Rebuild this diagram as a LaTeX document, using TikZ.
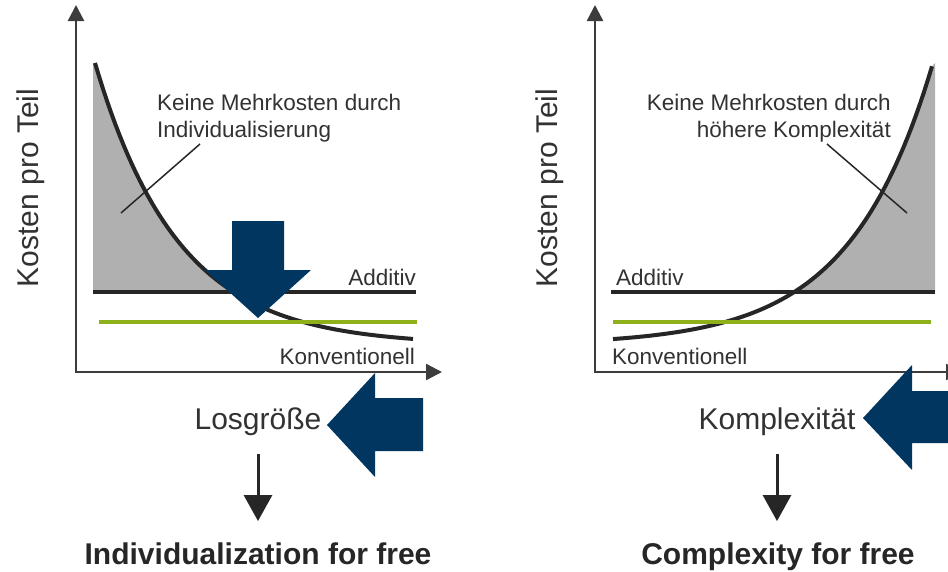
\documentclass[tikz,border=0pt]{standalone}
\usepackage{fontspec}
\setmainfont{Liberation Sans}
\usetikzlibrary{arrows.meta}
\definecolor{navy}{RGB}{0,54,96}
\definecolor{lgreen}{RGB}{142,176,26}
\definecolor{shadegray}{RGB}{176,176,176}
\definecolor{ink}{RGB}{38,38,38}
\definecolor{txt}{RGB}{50,50,50}
\begin{document}
\begin{tikzpicture}[x=1pt,y=-1pt,
  axisline/.style={draw=ink!90, line width=2.4pt, {Triangle[width=16pt,length=16pt]}-{Triangle[width=16pt,length=16pt]}},
  costcurve/.style={draw=ink, line width=4pt},
  addline/.style={draw=ink, line width=4pt},
  greenline/.style={draw=lgreen, line width=4.5pt},
  leaderline/.style={draw=ink, line width=1.5pt},
  lbl/.style={font=\fontsize{22.5}{27}\selectfont, text=txt, inner sep=0pt},
  biglbl/.style={font=\fontsize{30}{36}\selectfont, text=txt, inner sep=0pt},
  boldlbl/.style={font=\fontsize{30}{36}\selectfont\bfseries, text=ink, inner sep=0pt},
  downarrow/.style={draw=ink, line width=3pt, -{Triangle[width=28pt,length=26pt]}},
  bluearrow/.style={fill=navy}
]
\useasboundingbox (0,0) rectangle (948,571);

% ---------- left chart ----------
\fill[shadegray] (93,63) -- plot[domain=95:234,samples=50] (\x,{345-282*exp(-(\x-95)/83)}) -- (93,292) -- cycle;
\draw[axisline] (76,5) -- (76,372) -- (442,372);
\draw[costcurve] plot[domain=95:413,samples=80] (\x,{345-282*exp(-(\x-95)/83)});
\draw[addline] (93,292) -- (416,292);
\draw[greenline] (99,322) -- (417,322);
\draw[leaderline] (200,144) -- (121,213);

\node[lbl, anchor=base west, align=left] (noteL) at (157,137) {Keine Mehrkosten durch\\Individualisierung};
\node[lbl, anchor=base east] (addL) at (416,285) {Additiv};
\node[lbl, anchor=base east] (konvL) at (415,364) {Konventionell};
\node[biglbl, rotate=90, anchor=base] (yL) at (38,188) {Kosten pro Teil};
\node[biglbl, anchor=base] (los) at (258,429) {Losgröße};
\node[boldlbl, anchor=base] (indiv) at (258,564) {Individualization for free};
\draw[downarrow, shorten <=19pt, shorten >=21pt] (los.south) -- (los.south |- indiv.north);

\fill[bluearrow] (232,221) -- (284,221) -- (284,270) -- (311,270) -- (258,318) -- (205,270) -- (232,270) -- cycle;
\fill[bluearrow] (327,425) -- (375,373) -- (375,398) -- (423,398) -- (423,451) -- (375,451) -- (375,477) -- cycle;

% ---------- right chart ----------
\fill[shadegray] plot[domain=794:932,samples=50] (\x,{345-282*exp((\x-933)/83)}) -- (935,63) -- (935,292) -- (794,292) -- cycle;
\draw[axisline] (595,5) -- (595,372) -- (962,372);
\draw[costcurve] plot[domain=613:932,samples=80] (\x,{345-282*exp((\x-933)/83)});
\draw[addline] (611,292) -- (935,292);
\draw[greenline] (613,322) -- (931,322);
\draw[leaderline] (827,144) -- (907,213);

\node[lbl, anchor=base east, align=right] (noteR) at (891,137) {Keine Mehrkosten durch\\höhere Komplexität};
\node[lbl, anchor=base west] (addR) at (616,285) {Additiv};
\node[lbl, anchor=base west] (konvR) at (612,364) {Konventionell};
\node[biglbl, rotate=90, anchor=base] (yR) at (557,188) {Kosten pro Teil};
\node[biglbl, anchor=base] (komp) at (777,429) {Komplexität};
\node[boldlbl, anchor=base] (compl) at (778,564) {Complexity for free};
\draw[downarrow, shorten <=19pt, shorten >=21pt] (komp.south) -- (komp.south |- compl.north);

\fill[bluearrow] (863,418) -- (912,365) -- (912,391) -- (962,391) -- (962,443) -- (912,443) -- (912,470) -- cycle;
\end{tikzpicture}
\end{document}
